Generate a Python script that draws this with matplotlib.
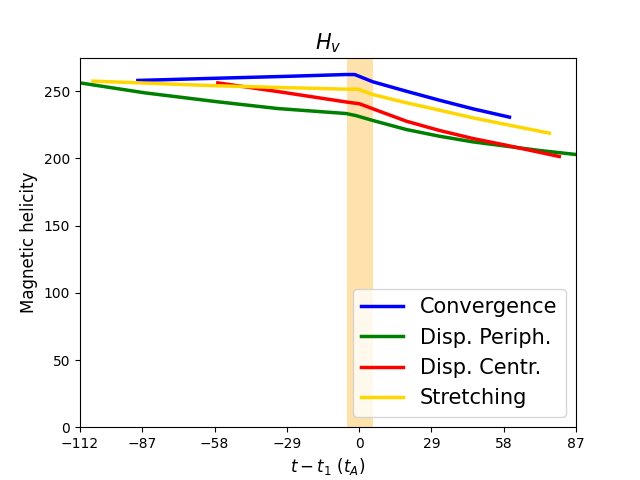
import matplotlib
matplotlib.use("Agg")
import matplotlib.pyplot as plt

# Convergence
t_conv = [-88.8, -60.0, -30.0, -5.3, -1.8, 5.5, 18.9, 32.2, 45.6, 60.3]
h_conv = [258.0, 259.5, 261.0, 262.4, 262.4, 257.0, 250.0, 243.3, 236.9, 230.7]

# Disp. Periph.
t_peri = [-112.0, -86.1, -56.7, -32.7, -5.3, -1.4, 5.5, 18.9, 32.2, 45.6, 59.0, 72.3, 87.0]
h_peri = [256.2, 248.8, 242.1, 237.1, 233.4, 231.9, 228.2, 221.5, 216.5, 212.3, 209.1, 205.9, 202.9]

# Disp. Centr.
t_cent = [-56.7, -30.0, -5.3, 0.2, 5.5, 18.9, 32.2, 45.6, 59.0, 80.3]
h_cent = [256.2, 249.0, 242.0, 240.6, 236.9, 227.7, 220.8, 214.8, 209.8, 201.4]

# Stretching
t_str = [-106.8, -56.7, -5.3, -0.5, 5.5, 18.9, 32.2, 45.6, 59.0, 76.3]
h_str = [257.5, 254.0, 251.5, 251.5, 247.5, 241.4, 235.9, 230.2, 225.2, 218.8]

xticks = [-112, -87, -58, -29, 0, 29, 58, 87]
band = (-5, 5.5)

fig, ax = plt.subplots(figsize=(6.4, 4.8), dpi=100)
ax.axvspan(band[0], band[1], color='orange', alpha=0.33, lw=0, zorder=0)
ax.plot(t_conv, h_conv, color='blue', lw=2.5, label='Convergence')
ax.plot(t_peri, h_peri, color='green', lw=2.5, label='Disp. Periph.')
ax.plot(t_cent, h_cent, color='red', lw=2.5, label='Disp. Centr.')
ax.plot(t_str, h_str, color='gold', lw=2.5, label='Stretching')

ax.set_xlim(-112, 87)
ax.set_ylim(0, 275)
ax.set_xticks(xticks)
ax.set_xticklabels([str(v) if v >= 0 else '\u2212' + str(-v) for v in xticks])
ax.set_title(r'$H_v$', fontsize=15)
ax.set_xlabel(r'$t-t_1$ ($t_A$)', fontsize=12)
ax.set_ylabel('Magnetic helicity', fontsize=12)
ax.legend(loc='lower right', fontsize=15)

fig.savefig('out.png', dpi=100)
